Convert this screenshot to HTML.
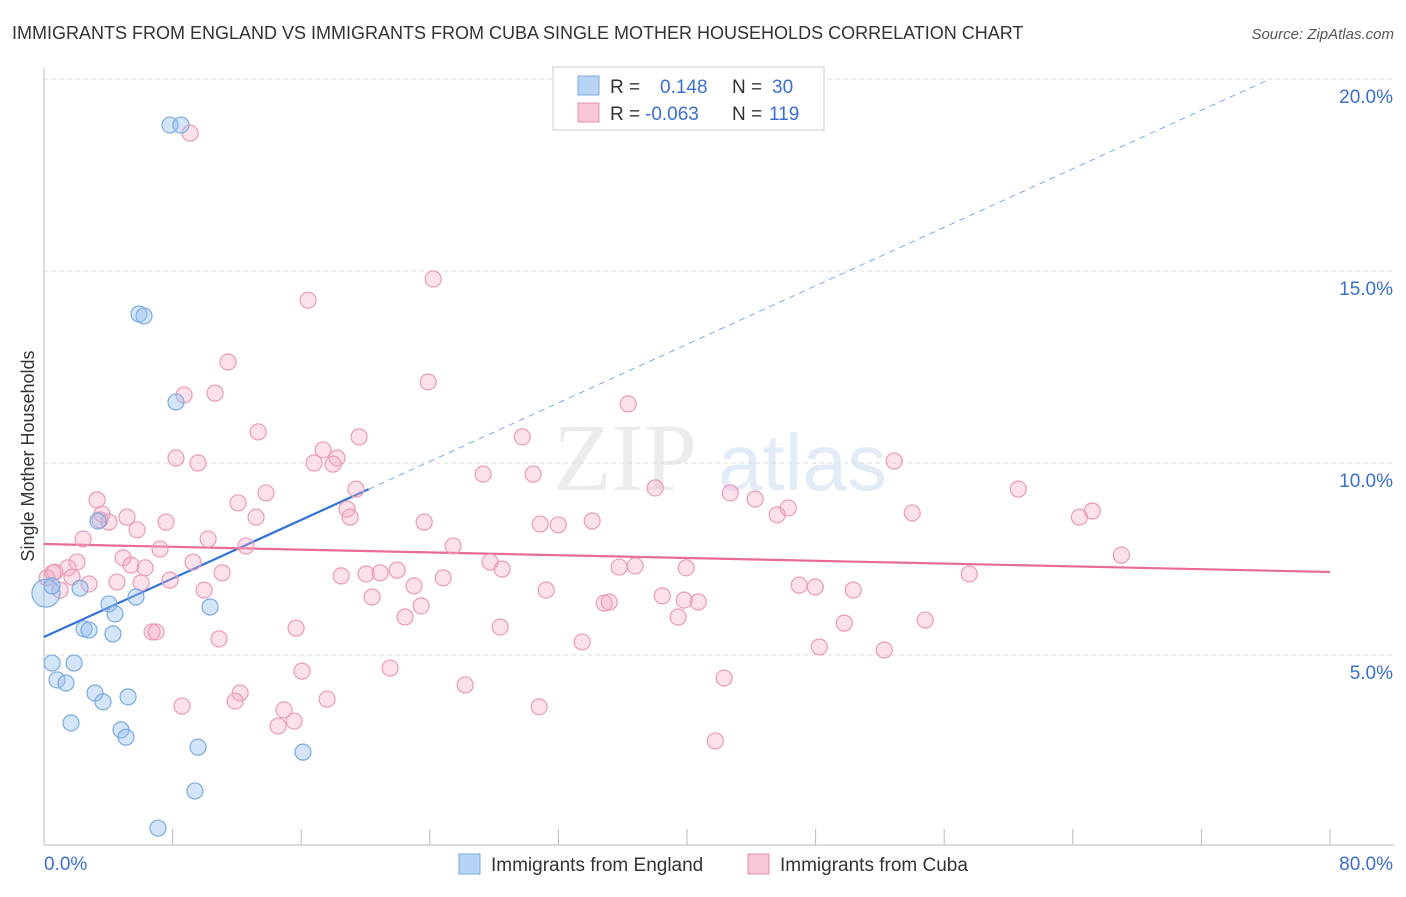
<!DOCTYPE html>
<html><head><meta charset="utf-8"><style>
body{margin:0;background:#fff;font-family:"Liberation Sans",sans-serif;}
</style></head><body>
<svg id="chart" width="1406" height="892" xmlns="http://www.w3.org/2000/svg" font-family="Liberation Sans, sans-serif">
<text x="12" y="39" font-size="18" fill="#333">IMMIGRANTS FROM ENGLAND VS IMMIGRANTS FROM CUBA SINGLE MOTHER HOUSEHOLDS CORRELATION CHART</text>
<text x="1394" y="39" font-size="15" fill="#555" text-anchor="end" font-style="italic">Source: ZipAtlas.com</text>
<text transform="translate(34,456) rotate(-90)" font-size="18" fill="#333" text-anchor="middle">Single Mother Households</text>
<g opacity="0.35">
<text x="553" y="490" font-size="96" font-family="Liberation Serif, serif" fill="#c9c9c9">ZIP</text>
<text x="718" y="490" font-size="80" fill="#b0c8e8">atlas</text>
</g>
<g id="grid"></g><g id="axes"></g><g id="trend"></g><g id="pts"></g>
<g>
<rect x="553" y="67" width="271" height="63" fill="#fff" stroke="#ccc"/>
<rect x="578" y="76" width="21" height="19" fill="#b8d4f4" stroke="#7aaae0"/>
<rect x="578" y="103" width="21" height="19" fill="#f8c6d6" stroke="#e890b0"/>
<text x="610" y="93" font-size="19" fill="#333">R =</text>
<text x="660" y="93" font-size="19" fill="#3a6fd0">0.148</text>
<text x="732" y="93" font-size="19" fill="#333">N =</text>
<text x="772" y="93" font-size="19" fill="#3a6fd0">30</text>
<text x="610" y="120" font-size="19" fill="#333">R =</text>
<text x="645" y="120" font-size="19" fill="#3a6fd0">-0.063</text>
<text x="732" y="120" font-size="19" fill="#333">N =</text>
<text x="769" y="120" font-size="19" fill="#3a6fd0">119</text>
</g>
<g>
<rect x="459" y="854" width="21" height="20" fill="#b8d4f4" stroke="#7aaae0"/>
<text x="491" y="871" font-size="19" fill="#333">Immigrants from England</text>
<rect x="748" y="854" width="21" height="20" fill="#f8c6d6" stroke="#e890b0"/>
<text x="780" y="871" font-size="19" fill="#333">Immigrants from Cuba</text>
</g>
</svg>
<script>
const yTicks=[5,10,15,20];
const yTickLabels=["5.0%","10.0%","15.0%","20.0%"];
const xTicks=[0,8,16,24,32,40,48,56,64,72,80];
const englandX=[7.84,8.52,5.91,6.22,8.21,3.36,2.24,4.04,5.72,4.42,10.33,2.49,2.80,4.29,0.50,1.87,0.81,1.37,3.17,3.67,5.23,1.68,4.79,5.10,9.58,16.11,9.39,7.09,0.12,0.5];
const englandY=[18.80,18.80,13.88,13.83,11.59,8.49,6.74,6.33,6.51,6.07,6.25,5.68,5.65,5.55,4.79,4.79,4.35,4.27,4.01,3.78,3.91,3.23,3.05,2.86,2.60,2.47,1.46,0.49,6.61,6.8];
const cubaX=[9.09,24.21,16.43,11.45,23.90,8.71,10.64,36.34,13.32,19.60,29.75,17.36,18.23,8.21,9.58,16.80,17.98,52.89,27.32,30.43,3.30,38.02,60.61,13.81,19.41,42.69,44.24,12.07,46.30,18.85,45.61,54.01,65.21,64.41,3.61,5.16,13.19,19.04,23.65,30.87,31.99,34.10,4.04,7.59,5.79,2.43,10.21,7.22,12.57,25.45,67.02,4.92,9.27,2.05,1.49,6.29,5.41,27.75,28.50,0.68,1.74,11.08,21.97,35.78,36.78,39.95,18.48,20.04,20.91,24.83,57.56,4.54,6.04,7.84,2.80,23.02,31.24,9.96,46.98,47.98,50.34,20.41,38.46,39.83,40.70,34.85,35.16,23.46,22.46,39.45,49.78,54.82,28.38,15.68,6.72,6.97,10.89,33.48,48.23,52.27,16.05,21.53,42.31,26.20,12.20,11.89,8.59,17.61,14.93,15.56,14.56,30.80,41.76,1.0,0.19,0.56,3.48];
const cubaY=[18.59,14.79,14.24,12.63,12.11,11.77,11.82,11.54,10.81,10.68,10.68,10.34,10.13,10.13,10.0,10.0,9.97,10.05,9.71,9.71,9.04,9.35,9.32,9.22,9.32,9.22,9.06,8.96,8.83,8.80,8.65,8.70,8.75,8.59,8.67,8.59,8.59,8.59,8.46,8.41,8.39,8.49,8.46,8.46,8.26,8.02,8.02,7.76,7.84,7.84,7.60,7.53,7.42,7.42,7.27,7.27,7.34,7.42,7.24,7.16,7.03,7.14,7.21,7.29,7.32,7.27,7.06,7.11,7.14,7.01,7.11,6.90,6.88,6.95,6.85,6.80,6.69,6.69,6.82,6.77,6.69,6.51,6.54,6.43,6.38,6.35,6.38,6.28,5.99,5.99,5.83,5.91,5.73,5.70,5.60,5.60,5.42,5.34,5.21,5.13,4.58,4.66,4.40,4.22,4.01,3.80,3.67,3.85,3.57,3.28,3.15,3.65,2.76,6.69,7.01,7.14,8.52];
const englandTrend=[5.47,0.1905];
const cubaTrend=[7.89,-0.0091];
const NS="http://www.w3.org/2000/svg";
const X=v=>44+v*16.075, Y=v=>847-v*38.4;
function mk(p,t,a){const e=document.createElementNS(NS,t);for(const k in a)e.setAttribute(k,a[k]);document.getElementById(p).appendChild(e);return e;}
yTicks.forEach((t,i)=>{
 let l=mk('grid','line',{x1:44,x2:1394,y1:Y(t),y2:Y(t),stroke:'#ddd','stroke-dasharray':'4,4'});
 
 
 let tx=mk('grid','text',{x:1393,y:Y(t)+24,'font-size':19,fill:'#3a6fd0','text-anchor':'end'});
 tx.textContent=yTickLabels[i];
 
 
});
let ax=mk('axes','line',{x1:44,x2:1394,y1:845,y2:845,stroke:'#bbb'});


let ay=mk('axes','line',{x1:44,x2:44,y1:68,y2:845,stroke:'#bbb'});


xTicks.forEach(t=>{let l=mk('axes','line',{x1:X(t),x2:X(t),y1:829,y2:845,stroke:'#bbb'});
 
 });
let x0=mk('axes','text',{x:44,y:870,'font-size':19,fill:'#3a6fd0'});x0.textContent='0.0%';


let x1=mk('axes','text',{x:1393,y:870,'font-size':19,fill:'#3a6fd0','text-anchor':'end'});x1.textContent='80.0%';


cubaX.forEach((v,i)=>{let c=mk('pts','circle',{cx:X(v),cy:Y(cubaY[i]),r:8,fill:'rgba(245,170,195,0.35)',stroke:'#ea9ab8','stroke-width':1.2});
 
 });
englandX.forEach((v,i)=>{let c=mk('pts','circle',{cx:X(v),cy:Y(englandY[i]),r:i==28?14:8,fill:'rgba(150,190,240,0.4)',stroke:'#7aaae0','stroke-width':1.2});
 
 });
const ey=x=>englandTrend[0]+englandTrend[1]*x, cy=x=>cubaTrend[0]+cubaTrend[1]*x;
let t1=mk('trend','line',{x1:X(0),y1:Y(ey(0)),x2:X(20.2),y2:Y(ey(20.2)),stroke:'#2f72d8','stroke-width':2.2});


let xe=(20-englandTrend[0])/englandTrend[1];
let t2=mk('trend','line',{x1:X(20.2),y1:Y(ey(20.2)),x2:X(xe),y2:Y(20),stroke:'#7aaae0','stroke-width':1,'stroke-dasharray':'6,5'});


let t3=mk('trend','line',{x1:X(0),y1:Y(cy(0)),x2:X(80),y2:Y(cy(80)),stroke:'#e86a98','stroke-width':2.2});


</script>
</body></html>
